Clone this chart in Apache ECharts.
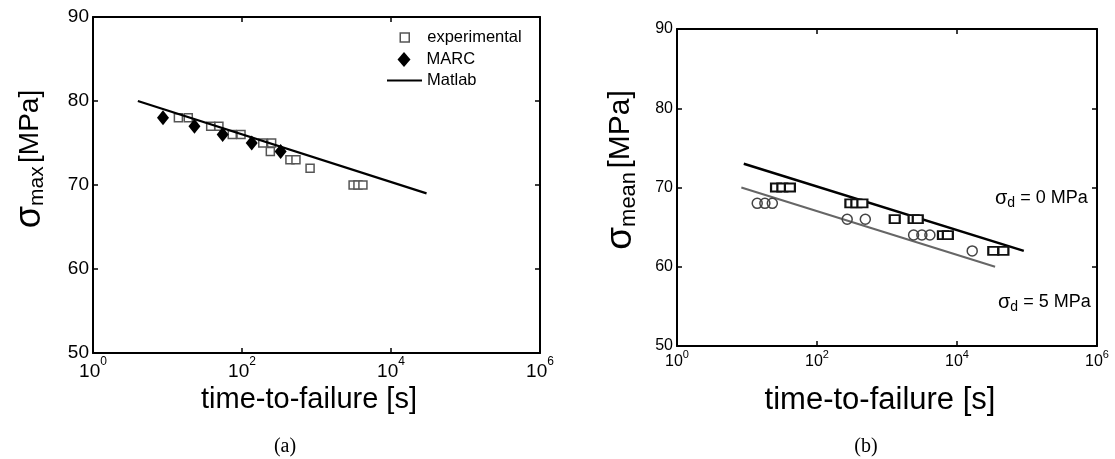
<!DOCTYPE html>
<html><head><meta charset="utf-8">
<script src="https://cdn.jsdelivr.net/npm/echarts@6/dist/echarts.min.js"></script>
<style>html,body{margin:0;padding:0;background:#fff}#c{width:1115px;height:459px}</style>
</head><body><div id="c"></div>
<script>
// ---------- (a) ----------
const expTime   = [14, 19, 38, 49, 74, 97, 190, 250, 240, 440, 530, 820, 3100, 3600, 4200];
const expStress = [78, 78, 77, 77, 76, 76, 75, 75, 74, 73, 73, 72, 70, 70, 70];
const marcTime   = [8.7, 23, 55, 135, 330];
const marcStress = [78, 77, 76, 75, 74];
const matlabTime   = [4, 30000];
const matlabStress = [80, 69];
// ---------- (b) ----------
const sd0Time   = [26, 32, 41, 300, 365, 445, 1290, 2400, 2750, 6300, 7400, 33000, 46000];
const sd0Stress = [70, 70, 70, 68, 68, 68, 66, 66, 66, 64, 64, 62, 62];
const sd5Time   = [14, 18, 23, 270, 490, 2400, 3150, 4100, 16500];
const sd5Stress = [68, 68, 68, 66, 66, 64, 64, 64, 62];
const fit0Time = [9, 90000];   const fit0Stress = [73, 62];
const fit5Time = [8.3, 35000]; const fit5Stress = [70, 60];
// ---------- axes ----------
const xMin = 1, xMax = 1e6, xLogStep = 2;
const yMin = 50, yMax = 90, yStep = 10;

const zip = (a, b) => a.map((v, i) => [v, b[i]]);
const FONT = '"Liberation Sans", Arial, sans-serif';

function xAxisDef(grid, pos, fs, sup) {
  return {
    gridIndex: grid, type: 'log', logBase: 10, min: xMin, max: xMax, interval: xLogStep,
    position: pos,
    axisLine: {show: true, onZero: false, lineStyle: {color: '#000', width: 2}},
    axisTick: {show: true, inside: true, length: 5, lineStyle: {color: '#000', width: 1.5}},
    splitLine: {show: false}, minorTick: {show: false},
    axisLabel: pos === 'bottom' ? {
      show: true, margin: 3, color: '#000',
      formatter: v => '{b|10}{s|' + Math.round(Math.log10(v)) + '}',
      rich: {
        b: {fontSize: fs, fontFamily: FONT, color: '#000', padding: [Math.round(fs*0.3), 0, 0, 0]},
        s: {fontSize: sup, fontFamily: FONT, color: '#000', verticalAlign: 'top'}
      }
    } : {show: false}
  };
}
function yAxisDef(grid, pos, fs) {
  return {
    gridIndex: grid, type: 'value', min: yMin, max: yMax, interval: yStep,
    position: pos,
    axisLine: {show: true, onZero: false, lineStyle: {color: '#000', width: 2}},
    axisTick: {show: true, inside: true, length: 5, lineStyle: {color: '#000', width: 1.5}},
    splitLine: {show: false},
    axisLabel: pos === 'left' ? {show: true, margin: 4, color: '#000', fontSize: fs, fontFamily: FONT} : {show: false}
  };
}

const chart = echarts.init(document.getElementById('c'), null, {renderer: 'canvas'});
const legendText = (pl) => ({fontSize: 16.5, color: '#000', fontFamily: FONT, padding: [0, 0, 0, pl]});
chart.setOption({
  animation: false,
  backgroundColor: '#fff',
  grid: [
    {left: 93, top: 17, width: 447, height: 336},
    {left: 677, top: 29, width: 420, height: 317}
  ],
  xAxis: [xAxisDef(0, 'bottom', 19, 12), xAxisDef(0, 'top', 19, 12),
          xAxisDef(1, 'bottom', 16, 11), xAxisDef(1, 'top', 16, 11)],
  yAxis: [yAxisDef(0, 'left', 19), yAxisDef(0, 'right', 19),
          yAxisDef(1, 'left', 16), yAxisDef(1, 'right', 16)],
  legend: [
    {data: [{name: 'experimental', icon: 'rect', itemStyle: {color: '#fff', borderColor: '#555', borderWidth: 1.5, opacity: 1}}],
     left: 399.5, top: 29, padding: 0, itemWidth: 9, itemHeight: 9, textStyle: legendText(13), selectedMode: false},
    {data: [{name: 'MARC', icon: 'diamond', itemStyle: {color: '#000', opacity: 1}}],
     left: 397.5, top: 51, padding: 0, itemWidth: 13, itemHeight: 15, textStyle: legendText(11), selectedMode: false},
    {data: [{name: 'Matlab', icon: 'rect', itemStyle: {color: '#000', borderWidth: 0, opacity: 1}}],
     left: 387, top: 72, padding: 0, itemWidth: 35, itemHeight: 2, textStyle: legendText(0), selectedMode: false}
  ],
  series: [
    {name: 'experimental', type: 'scatter', xAxisIndex: 0, yAxisIndex: 0, data: zip(expTime, expStress),
     symbol: 'rect', symbolSize: [8, 8], itemStyle: {color: '#fff', borderColor: '#555', borderWidth: 1.5, opacity: 1}, z: 2},
    {name: 'Matlab', type: 'line', xAxisIndex: 0, yAxisIndex: 0, data: zip(matlabTime, matlabStress),
     showSymbol: false, symbol: 'none', lineStyle: {color: '#000', width: 2.2}, itemStyle: {color: '#000'}, z: 3},
    {name: 'MARC', type: 'scatter', xAxisIndex: 0, yAxisIndex: 0, data: zip(marcTime, marcStress),
     symbol: 'diamond', symbolSize: [12, 15], itemStyle: {color: '#000', opacity: 1}, z: 4},
    {name: 'fit σd=0', type: 'line', xAxisIndex: 2, yAxisIndex: 2, data: zip(fit0Time, fit0Stress),
     showSymbol: false, symbol: 'none', lineStyle: {color: '#000', width: 2.5}, z: 3},
    {name: 'fit σd=5', type: 'line', xAxisIndex: 2, yAxisIndex: 2, data: zip(fit5Time, fit5Stress),
     showSymbol: false, symbol: 'none', lineStyle: {color: '#666', width: 2}, z: 3},
    {name: 'σd=0', type: 'scatter', xAxisIndex: 2, yAxisIndex: 2, data: zip(sd0Time, sd0Stress),
     symbol: 'rect', symbolSize: [10, 8], itemStyle: {color: '#fff', borderColor: '#111', borderWidth: 2, opacity: 1}, z: 4},
    {name: 'σd=5', type: 'scatter', xAxisIndex: 2, yAxisIndex: 2, data: zip(sd5Time, sd5Stress),
     symbol: 'circle', symbolSize: 10, itemStyle: {color: 'rgba(255,255,255,0)', borderColor: '#444', borderWidth: 1.5, opacity: 1}, z: 4}
  ],
  graphic: [
    {type: 'text', x: 309, y: 400, style: {text: 'time-to-failure [s]', fontSize: 29, fontFamily: FONT, fill: '#000', align: 'center', verticalAlign: 'middle'}},
    {type: 'text', x: 880, y: 400, style: {text: 'time-to-failure [s]', fontSize: 31, fontFamily: FONT, fill: '#000', align: 'center', verticalAlign: 'middle'}},
    {type: 'text', x: 30, y: 159, rotation: Math.PI / 2,
     style: {text: '{g|σ}{sub|max} {u|[MPa]}', align: 'center', verticalAlign: 'middle', fill: '#000',
       rich: {g: {fontSize: 36, fontFamily: FONT, fill: '#000'},
              sub: {fontSize: 21, fontFamily: FONT, fill: '#000', verticalAlign: 'bottom', padding: [14, 0, 0, 0]},
              u: {fontSize: 28, fontFamily: FONT, fill: '#000'}}}},
    {type: 'text', x: 621, y: 170, rotation: Math.PI / 2,
     style: {text: '{g|σ}{sub|mean} {u|[MPa]}', align: 'center', verticalAlign: 'middle', fill: '#000',
       rich: {g: {fontSize: 37, fontFamily: FONT, fill: '#000'},
              sub: {fontSize: 22, fontFamily: FONT, fill: '#000', verticalAlign: 'bottom', padding: [15, 0, 0, 0]},
              u: {fontSize: 30, fontFamily: FONT, fill: '#000'}}}},
    {type: 'text', x: 995, y: 198,
     style: {text: '{g|σ}{sub|d}{t| = 0 MPa}', align: 'left', verticalAlign: 'middle', fill: '#000',
       rich: {g: {fontSize: 20, fontFamily: FONT}, sub: {fontSize: 14, fontFamily: FONT, verticalAlign: 'bottom', padding: [10, 0, 0, 0]}, t: {fontSize: 18, fontFamily: FONT}}}},
    {type: 'text', x: 998, y: 302,
     style: {text: '{g|σ}{sub|d}{t| = 5 MPa}', align: 'left', verticalAlign: 'middle', fill: '#000',
       rich: {g: {fontSize: 20, fontFamily: FONT}, sub: {fontSize: 14, fontFamily: FONT, verticalAlign: 'bottom', padding: [10, 0, 0, 0]}, t: {fontSize: 18, fontFamily: FONT}}}},
    {type: 'text', x: 285, y: 447, style: {text: '(a)', fontSize: 20, fontFamily: '"Liberation Serif", serif', fill: '#000', align: 'center', verticalAlign: 'middle'}},
    {type: 'text', x: 866, y: 447, style: {text: '(b)', fontSize: 20, fontFamily: '"Liberation Serif", serif', fill: '#000', align: 'center', verticalAlign: 'middle'}}
  ]
});
</script>
</body></html>
